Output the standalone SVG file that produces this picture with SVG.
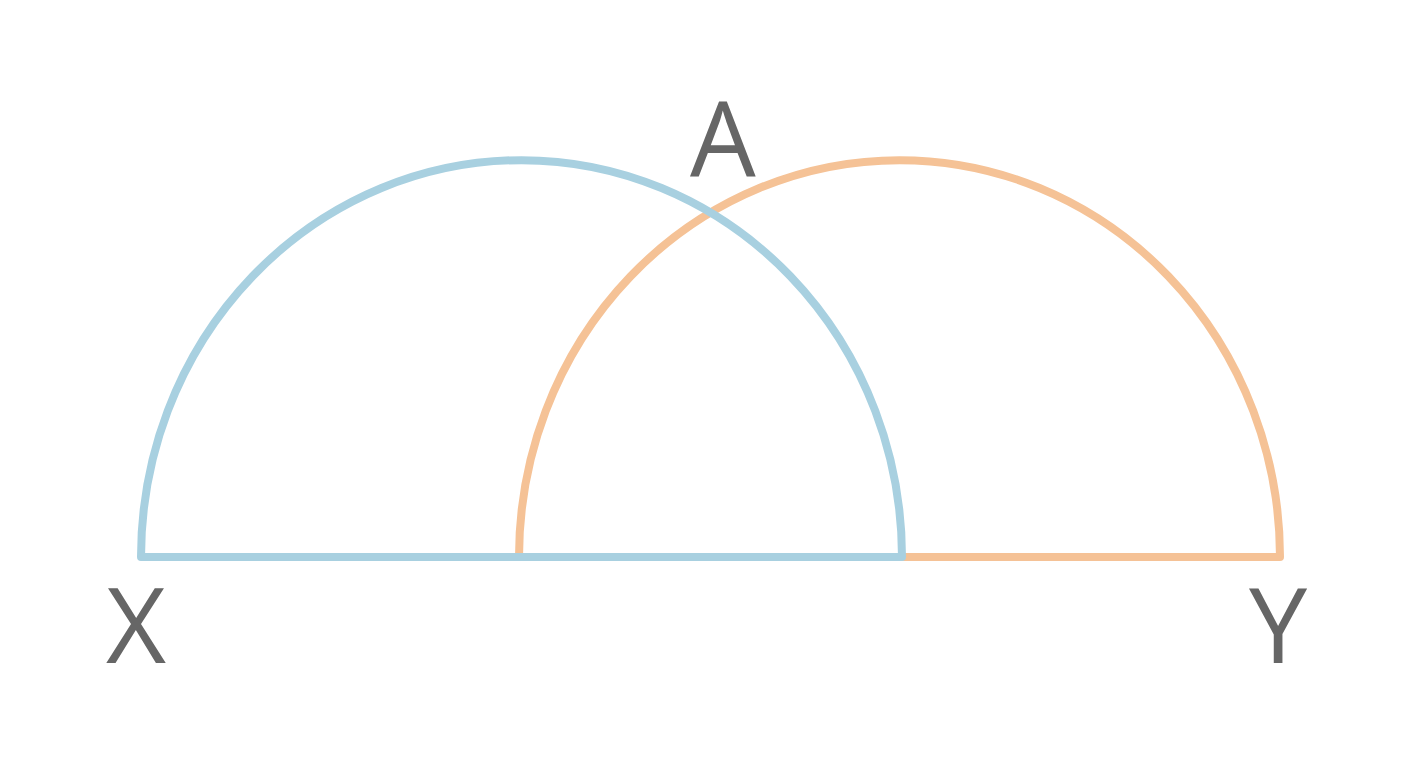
<svg xmlns="http://www.w3.org/2000/svg" width="1408" height="768" viewBox="0 0 1408 768">
<style>
.arc{fill:none;stroke-width:8;stroke-linejoin:round;stroke-linecap:round}
.blue{stroke:#a8d0e0}
.orange{stroke:#f5c296}
.lbl{font-family:"Open Sans","Noto Sans",sans-serif;font-size:104px;fill:#666666;text-anchor:middle}
</style>
<rect width="1408" height="768" fill="#ffffff"/>
<g id="connectors">
<path id="orange-shape" class="arc orange" d="M519,557 A380.5,397 0 0 1 1280,557 Z"/>
<path id="blue-shape" class="arc blue" d="M141,557 A380.5,397 0 0 1 902,557 Z"/>
</g>
<g id="node-A"><text class="lbl" x="723" y="177">A</text></g>
<g id="node-X"><text class="lbl" x="136" y="663">X</text></g>
<g id="node-Y"><text class="lbl" x="1278" y="663">Y</text></g>
</svg>
